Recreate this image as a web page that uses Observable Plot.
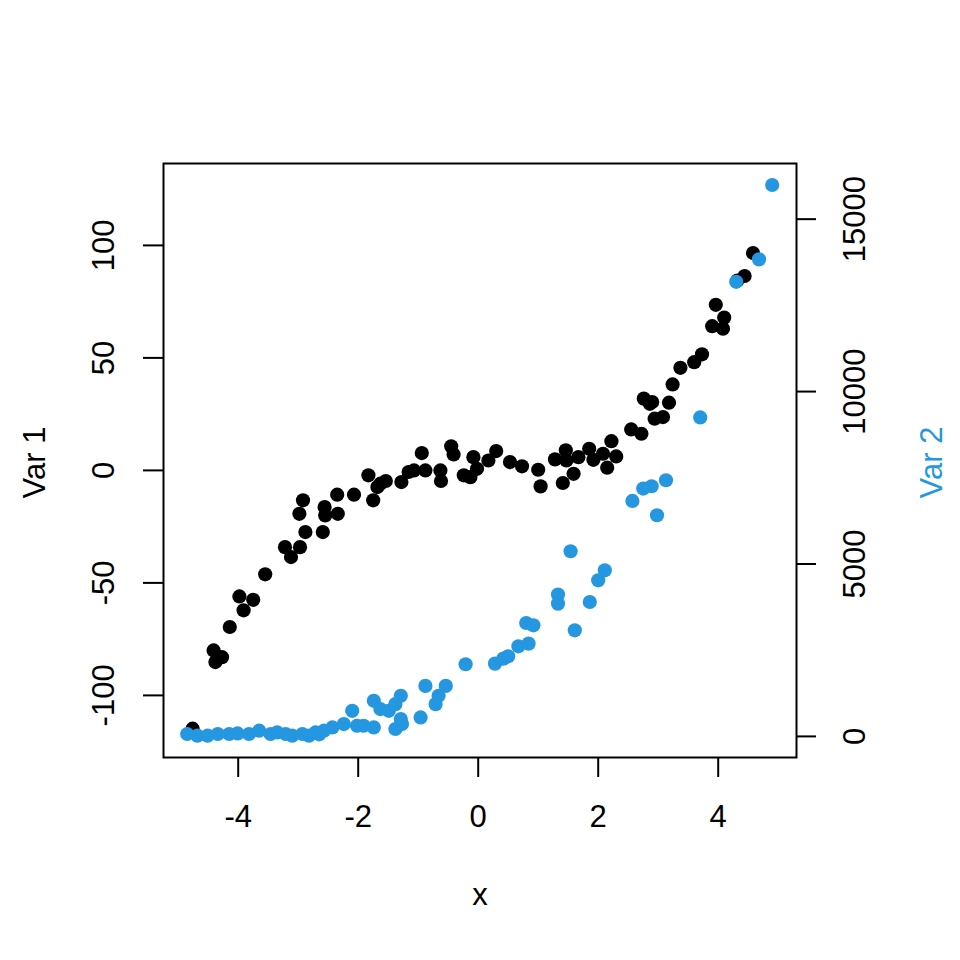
<!DOCTYPE html>
<html>
<head>
<meta charset="utf-8">
<script src="https://cdn.jsdelivr.net/npm/d3@7"></script>
<script src="https://cdn.jsdelivr.net/npm/@observablehq/plot@0.6"></script>
<style>
  html, body { margin: 0; padding: 0; background: white; }
</style>
</head>
<body>
<div id="chart"></div>
<script>
// ---- data ----
const var1X = [-4.76,-4.41,-4.27,-4.38,-4.14,-3.98,-3.91,-3.75,-3.55,-3.22,-3.12,-2.97,-2.88,-2.59,-2.98,-2.92,-2.56,-2.55,-2.34,-2.35,-2.07,-1.83,-1.75,-1.68,-1.63,-1.54,-1.28,-1.16,-1.07,-0.94,-0.88,-0.63,-0.62,-0.45,-0.41,-0.24,-0.13,-0.08,-0.02,0.17,0.30,0.53,0.73,1.00,1.04,1.28,1.41,1.46,1.47,1.59,1.67,1.85,1.92,2.08,2.15,2.22,2.30,2.55,2.72,2.76,2.86,2.90,2.94,3.08,3.18,3.24,3.37,3.60,3.73,3.90,4.08,4.10,3.96,4.32,4.44,4.58];
const var1Y = [-114.8,-80,-83,-85.2,-69.6,-56,-62.2,-57.5,-46.2,-34.1,-38.5,-34.1,-27.4,-27.4,-19.3,-13.3,-16.3,-20,-19.3,-10.8,-10.8,-2.2,-13.3,-7.4,-5.9,-4.7,-5.2,-0.7,0,7.7,0,0,-4.7,10.7,7.1,-2.2,-3,5.9,0.7,4.4,8.6,3.7,1.8,0.3,-7.1,4.9,-5.6,8.9,4.4,-1.5,5.9,9.6,4.7,7.4,1.2,13,6.2,18.2,16.3,31.9,29.6,30.4,23,23.7,30.1,38.2,45.6,48.1,51.6,64.1,63,67.9,73.6,84.4,86.4,96.6];

const var2X = [-4.85,-4.68,-4.51,-4.34,-4.15,-4.01,-3.82,-3.65,-3.46,-3.35,-3.21,-3.10,-2.93,-2.82,-2.71,-2.57,-2.65,-2.43,-2.24,-2.10,-2.02,-1.91,-1.74,-1.74,-1.63,-1.49,-1.38,-1.38,-1.29,-1.27,-1.29,-0.96,-0.88,-0.71,-0.66,-0.54,-0.21,0.28,0.42,0.50,0.67,0.84,0.80,0.92,1.33,1.33,1.54,1.61,1.86,2.00,2.11,2.57,2.75,2.89,2.98,3.13,3.70,4.30,4.68,4.90];
const var2Y = [70,20,20,69,69,87,69,165,69,116,69,20,69,20,116,165,60,260,358,743,309,309,260,1032,792,743,936,214,1176,358,503,549,1465,936,1176,1465,2092,2110,2255,2322,2612,2690,3288,3221,4112,3851,5369,3076,3897,4527,4817,6829,7188,7255,6413,7429,9249,13184,13834,15990];

const xTicks = [-4, -2, 0, 2, 4];
const y1Ticks = [-100, -50, 0, 50, 100];
const y2Ticks = [0, 5000, 10000, 15000];

const xLabel = "x";
const y1Label = "Var 1";
const y2Label = "Var 2";

// ---- scales / layout ----
const xDomain = [-5.245, 5.305];
const yDomain = [-127.6, 136.4];
// map Var 2 values onto the Var 1 (left) scale
const toLeft = v => (-266 + v / 29) / 2.25;

const blue = "#2597e1";
const font = "Liberation Sans, Arial, Helvetica, sans-serif";
const fs = 31;

const pts1 = var1X.map((x, i) => ({x, y: var1Y[i]}));
const pts2 = var2X.map((x, i) => ({x, y: toLeft(var2Y[i])}));

const tickLenX = 20 / 60;   // 20 px in x data units
const tickLenY = 20 / 2.25; // 20 px in y data units

const chart = Plot.plot({
  width: 960,
  height: 960,
  marginLeft: 163,
  marginRight: 164,
  marginTop: 163,
  marginBottom: 203,
  style: {fontFamily: font, background: "white"},
  x: {domain: xDomain, axis: null},
  y: {domain: yDomain, axis: null},
  marks: [
    Plot.dot(pts1, {x: "x", y: "y", r: 7.1, fill: "black", stroke: "none"}),
    Plot.dot(pts2, {x: "x", y: "y", r: 7.1, fill: blue, stroke: "none"}),
    Plot.frame({stroke: "black", strokeWidth: 2}),
    // bottom ticks
    Plot.ruleX(xTicks, {x: d => d, y1: yDomain[0], y2: yDomain[0] - tickLenY, stroke: "black", strokeWidth: 2}),
    Plot.text(xTicks, {x: d => d, y: yDomain[0], dy: 60, text: d => String(d), fontSize: fs, fill: "black", textAnchor: "middle", lineAnchor: "middle"}),
    // left ticks
    Plot.ruleY(y1Ticks, {y: d => d, x1: xDomain[0], x2: xDomain[0] - tickLenX, stroke: "black", strokeWidth: 2}),
    Plot.text(y1Ticks, {x: xDomain[0], y: d => d, dx: -59, rotate: -90, text: d => String(d), fontSize: fs, fill: "black", textAnchor: "middle", lineAnchor: "middle"}),
    // right ticks (Var 2)
    Plot.ruleY(y2Ticks, {y: d => toLeft(d), x1: xDomain[1], x2: xDomain[1] + tickLenX, stroke: "black", strokeWidth: 2}),
    Plot.text(y2Ticks, {x: xDomain[1], y: d => toLeft(d), dx: 59, rotate: -90, text: d => String(d), fontSize: fs, fill: "black", textAnchor: "middle", lineAnchor: "middle"}),
    // axis titles
    Plot.text([xLabel], {frameAnchor: "bottom", dy: 138, text: d => d, fontSize: fs, fill: "black", textAnchor: "middle", lineAnchor: "middle"}),
    Plot.text([y1Label], {frameAnchor: "left", dx: -128, dy: 2, rotate: -90, text: d => d, fontSize: fs, fill: "black", textAnchor: "middle", lineAnchor: "middle"}),
    Plot.text([y2Label], {frameAnchor: "right", dx: 136, dy: 2, rotate: -90, text: d => d, fontSize: fs, fill: blue, textAnchor: "middle", lineAnchor: "middle"})
  ]
});
document.getElementById("chart").appendChild(chart);
</script>
</body>
</html>
